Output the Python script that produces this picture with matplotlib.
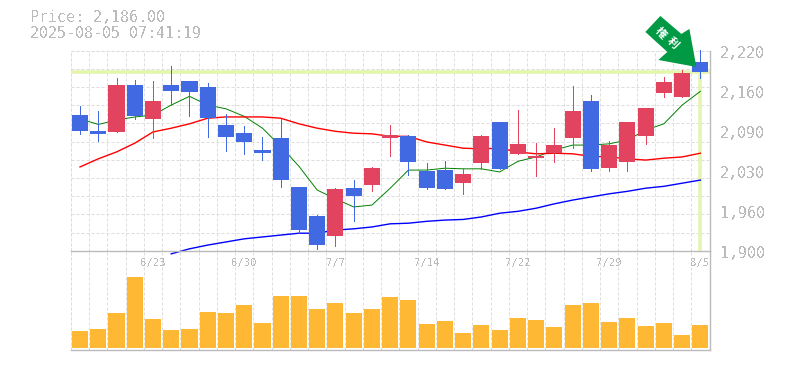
import matplotlib
matplotlib.use("Agg")
import matplotlib.pyplot as plt
import numpy as np
from matplotlib.patches import Polygon
from matplotlib.transforms import Affine2D

plt.rcParams["font.family"] = ["DejaVu Sans Mono"]
plt.rcParams["text.antialiased"] = False

W, H = 785, 370
GREY = "#bbbbbb"
GRID = "#dddddd"

opens = [2117, 2091, 2090, 2165, 2111, 2165, 2171, 2162, 2101, 2088,
         2061, 2080, 2002, 1955, 1923, 2000, 2005, 2080, 2083, 2027,
         2029, 2008, 2040, 2106, 2055, 2048, 2056, 2080, 2139, 2032,
         2042, 2083, 2152, 2146, 2202]
closes = [2091, 2087, 2165, 2115, 2139, 2155, 2154, 2112, 2082, 2074,
          2056, 2013, 1933, 1909, 1999, 1987, 2032, 2085, 2042, 2000,
          1999, 2023, 2083, 2031, 2071, 2051, 2069, 2123, 2031, 2069,
          2106, 2128, 2170, 2184, 2186]
highs = [2131, 2123, 2176, 2173, 2171, 2195, 2171, 2168, 2119, 2099,
         2082, 2112, 2002, 1957, 2000, 2013, 2034, 2101, 2085, 2040,
         2043, 2032, 2085, 2106, 2125, 2072, 2096, 2163, 2149, 2075,
         2106, 2128, 2178, 2189, 2221]
lows = [2087, 2075, 2090, 2111, 2080, 2133, 2115, 2082, 2059, 2055,
        2045, 2002, 1928, 1903, 1907, 1947, 1995, 2051, 2021, 1999,
        1999, 1991, 2031, 2031, 2055, 2019, 2042, 2064, 2027, 2027,
        2027, 2071, 2146, 2146, 2176]
volumes = [17, 19, 35, 71, 29, 18, 19, 36, 35, 43, 25, 52, 52, 39, 45, 35, 39, 51,
           48, 24, 27, 15, 23, 18, 30, 28, 21, 43, 45, 26, 30, 22, 25, 13, 23]

ma_short = [2111, 2102, 2109, 2114, 2117, 2133, 2147, 2133, 2127, 2115,
            2096, 2067, 2035, 1997, 1983, 1970, 1973, 2000, 2029, 2029,
            2032, 2031, 2031, 2026, 2043, 2050, 2061, 2069, 2069, 2071,
            2077, 2093, 2103, 2133, 2155]
ma_mid = [2034, 2047, 2058, 2072, 2090, 2096, 2103, 2112, 2114, 2114,
          2114, 2112, 2103, 2096, 2091, 2088, 2087, 2083, 2083, 2074,
          2069, 2064, 2063, 2064, 2058, 2055, 2056, 2055, 2051, 2050,
          2047, 2045, 2048, 2050, 2056]
ma_long = [1895, 1903, 1909, 1914, 1919, 1922, 1925, 1928, 1928, 1933,
           1935, 1938, 1943, 1944, 1947, 1949, 1950, 1954, 1960, 1963,
           1968, 1975, 1981, 1986, 1991, 1995, 2000, 2003, 2008, 2013]
ma_long_start = 5

price_ticks = [2220, 2156, 2092, 2028, 1964, 1900]
date_idx = [4, 9, 14, 19, 24, 29, 34]
date_labels = ["6/23", "6/30", "7/7", "7/14", "7/22", "7/29", "8/5"]
last_price = 2186.0
stamp = "2025-08-05 07:41:19"
badge_chars = ["権", "利"]

x = np.arange(len(opens))
blue, red = "#4169e1", "#e2445f"
colors = [blue if c < o else red for o, c in zip(opens, closes)]

fig = plt.figure(figsize=(W / 100, H / 100), dpi=100)
left, right = 70.9 / W, 709.5 / W
ax = fig.add_axes([left, 1 - 250.7 / H, right - left, 200 / H])
axv = fig.add_axes([left, 1 - 350 / H, right - left, 99.3 / H])
ax.set_zorder(2)  # long MA starts just under the price panel, keep it above the volume axes

dash = (0, (3, 2))
for a in (ax, axv):
    a.set_xlim(-0.5, len(x) - 0.5)
    a.set_xticks(x - 0.5)
    a.tick_params(length=0, labelbottom=False, labelleft=False)
    a.grid(axis="x", color=GRID, lw=0.72, ls=dash)
    a.set_axisbelow(True)
    for s in a.spines.values():
        s.set_color(GREY)
        s.set_linewidth(1)
    a.spines["left"].set_visible(False)
    a.spines["top"].set_visible(False)
    a.axvline(-0.5, color=GRID, lw=0.72, ls=dash, zorder=0.5)

ax.set_ylim(1900, 2220)
ax.set_yticks(np.linspace(1900, 2220, 12))
ax.grid(axis="y", color=GRID, lw=0.72, ls=dash)
ax.axhline(2220, color=GRID, lw=0.72, ls=dash, zorder=0.5)

# last price cross-hair
ax.axhline(last_price, color="#e4f5ae", lw=2.6, zorder=1)
ax.plot([x[-1], x[-1]], [last_price, 1902], color="#e4f5ae", lw=2.6, zorder=1)

ax.plot(x, ma_short, color="green", lw=0.7, zorder=2)
ax.plot(x, ma_mid, color="red", lw=1, zorder=2)
ax.plot(x[ma_long_start:], ma_long, color="blue", lw=1, zorder=2, clip_on=False)

ax.vlines(x, lows, highs, colors=colors, lw=0.72, zorder=3, antialiased=False, clip_on=False)
body_lo = np.minimum(opens, closes)
body_h = np.abs(np.array(closes) - np.array(opens))
ax.bar(x, body_h, bottom=body_lo, width=0.88, color=colors, zorder=4, antialiased=False)

axv.set_ylim(-2, 97.3)
axv.set_yticks([])
axv.bar(x, volumes, width=0.88, color="#ffb833", zorder=3, antialiased=False)
for i, lab in zip(date_idx, date_labels):
    axv.text(i, 1 - 12 / 99.3, lab, transform=axv.get_xaxis_transform(), ha="center", va="center",
             color=GREY, fontsize=7.6, clip_on=False)

for p in price_ticks:
    ax.annotate(f"{round(p, -1):,}", xy=(1, p), xycoords=ax.get_yaxis_transform(),
                xytext=(10.5, -2.5), textcoords="offset pixels", ha="left", va="center",
                color=GREY, fontsize=10.8, annotation_clip=False)

fig.text(30 / W, 1 - 18 / H, f"Price: {last_price:,.2f}", color=GREY, fontsize=10.8, va="center")
fig.text(30 / W, 1 - 33 / H, stamp, color=GREY, fontsize=10.8, va="center")

# arrow badge, offsets in px from its tip, y up
arrow_shape = [(0, 0), (-38, 7), (-29, 15), (-51, 35), (-36, 51), (-15, 33), (-7, 38)]
fig.canvas.draw()
tip = ax.transData.transform((33.78, 2194))
fig.add_artist(Polygon(arrow_shape, closed=True, fc="#009944", ec="none",
                       transform=Affine2D().translate(*tip), zorder=10))
for ch, (cx, cy) in zip(badge_chars, [(660.7, 32.7), (673, 43)]):
    fig.text(cx / W, 1 - cy / H, ch, family=["Noto Sans CJK JP", "DejaVu Sans"], color="white",
             fontsize=8, fontweight="bold", rotation=-45, ha="center", va="center", zorder=11,
             antialiased=True)

fig.savefig("out.png", dpi=100, facecolor="white")
